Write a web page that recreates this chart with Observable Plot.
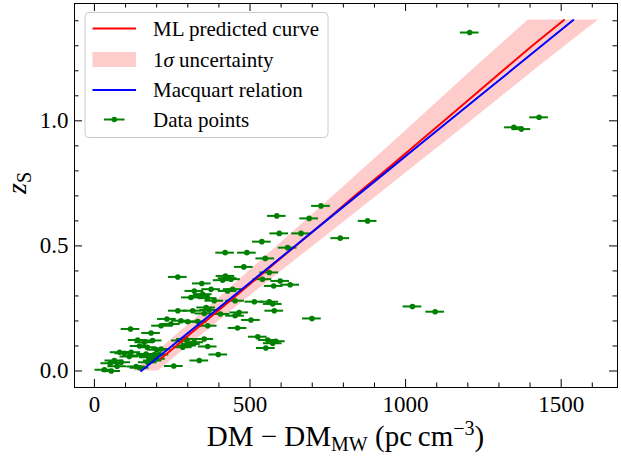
<!DOCTYPE html>
<html><head><meta charset="utf-8">
<script src="https://cdn.jsdelivr.net/npm/d3@7"></script>
<script src="https://cdn.jsdelivr.net/npm/@observablehq/plot@0.6"></script>
<style>body{margin:0;background:#fff} svg{display:block} svg text{font-family:"Liberation Serif","Times New Roman",serif}</style>
</head><body><div id="chart"></div>
<script>
// ---- data ----
const dmValues = [
  1206,1429,1348,1372,878,790,1022,1095,699,728,586,690,
  594,664,538,621,420,490,549,480,562,268,421,428,412,439,345,540,597,576,629,375,321,428,444,310,348,364,385,452,514,562,573,578,268,316,359,369,353,405,465,452,503,342,
  233,214,246,278,300,332,364,460,116,182,139,160,187,278,294,310,321,298,284,353,364,398,525,557,583,573,551,337,255,81,96,118,112,150,166,177,193,187,171,198,209,214,64,51,86,32,54,145,134,73,200,170,145
];
const zValues = [
  1.353,1.014,0.974,0.967,0.600,0.531,0.258,0.237,0.210,0.66,0.62,0.61,
  0.55,0.55,0.517,0.493,0.473,0.473,0.45,0.416,0.394,0.376,0.38,0.371,0.363,0.367,0.35,0.367,0.36,0.34,0.345,0.327,0.32,0.32,0.327,0.294,0.307,0.291,0.281,0.281,0.277,0.277,0.268,0.241,0.241,0.241,0.254,0.244,0.23,0.228,0.234,0.221,0.204,0.30,
  0.208,0.181,0.188,0.201,0.197,0.198,0.181,0.172,0.168,0.152,0.124,0.115,0.122,0.122,0.128,0.108,0.115,0.102,0.095,0.128,0.098,0.066,0.137,0.124,0.119,0.111,0.092,0.042,0.02,0.075,0.071,0.075,0.058,0.062,0.068,0.055,0.066,0.042,0.035,0.049,0.066,0.088,0.042,0.031,0.035,0.005,0.0,0.013,0.018,0.019,0.085,0.095,0.1
];
const dmErr = 30;

const macZ  = [0, 0.1, 0.2, 0.3, 0.4, 0.5, 0.6, 0.7, 0.8, 0.9, 1.0, 1.1, 1.2, 1.3, 1.403];
const macDM = [150, 249, 348, 447, 546, 645, 744, 843, 942, 1041, 1140, 1239, 1338, 1437, 1539];

const mlZ  = [0.05, 0.1, 0.15, 0.2, 0.3, 0.4, 0.5, 0.6, 0.7, 0.8, 0.9, 1.0, 1.1, 1.2, 1.3, 1.403];
const mlDM = [214, 262, 309, 358, 454, 550, 646, 742, 837, 934, 1029, 1124, 1218, 1312, 1407, 1509];

const bandZ  = [0, 0.1, 0.2, 0.3, 0.4, 0.5, 0.6, 0.7, 0.8, 0.9, 1.0, 1.1, 1.2, 1.3, 1.403];
const bandLo = [125, 222, 316, 408, 498, 588, 678, 768, 858, 948, 1036, 1124, 1212, 1302, 1395];
const bandHi = [205, 302, 400, 500, 602, 704, 806, 908, 1010, 1112, 1212, 1312, 1412, 1514, 1620];

const xMajorTicks = [0, 500, 1000, 1500];
const xMinorTicks = [100,200,300,400,600,700,800,900,1100,1200,1300,1400,1600];
const yMajorTicks = [0, 0.5, 1.0];
const yMinorTicks = [0.1,0.2,0.3,0.4,0.6,0.7,0.8,0.9,1.1,1.2,1.3,1.4];

const legendLabels = ["ML predicted curve", "1σ uncertainty", "Macquart relation", "Data points"];

// ---- build tables ----
const points = dmValues.map((dm, i) => ({dm, z: zValues[i]}));
const macData = macDM.map((dm, i) => ({dm, z: macZ[i]}));
const mlData = mlDM.map((dm, i) => ({dm, z: mlZ[i]}));
const bandData = bandZ.map((z, i) => ({z, lo: bandLo[i], hi: bandHi[i]}));

const W = 621, H = 457, mL = 74, mR = 4, mT = 3, mB = 70;
const innerW = W - mL - mR, innerH = H - mT - mB;
const majLen = 8, minLen = 4.5;
const FONT = '"Liberation Serif", "Times New Roman", serif';

const plot = Plot.plot({
  width: W, height: H,
  marginLeft: mL, marginRight: mR, marginTop: mT, marginBottom: mB,
  x: {domain: [-64, 1681]},
  y: {domain: [-0.066, 1.469]},
  style: {fontFamily: FONT, fontSize: "23px", color: "black", background: "white", overflow: "visible"},
  marks: [
    Plot.areaX(bandData, {y: "z", x1: "lo", x2: "hi", fill: "#ffcccc"}),
    Plot.ruleY(points, {y: "z", x1: d => d.dm - dmErr, x2: d => d.dm + dmErr, stroke: "green", strokeWidth: 2}),
    Plot.dot(points, {x: "dm", y: "z", r: 2.8, fill: "green"}),
    Plot.line(mlData, {x: "dm", y: "z", stroke: "red", strokeWidth: 2}),
    Plot.line(macData, {x: "dm", y: "z", stroke: "blue", strokeWidth: 2}),
    Plot.frame({stroke: "black", strokeWidth: 1}),
    // inward ticks, all four sides
    Plot.tickX(xMajorTicks, {x: d => d, insetTop: innerH - majLen, stroke: "black"}),
    Plot.tickX(xMajorTicks, {x: d => d, insetBottom: innerH - majLen, stroke: "black"}),
    Plot.tickX(xMinorTicks, {x: d => d, insetTop: innerH - minLen, stroke: "black"}),
    Plot.tickX(xMinorTicks, {x: d => d, insetBottom: innerH - minLen, stroke: "black"}),
    Plot.tickY(yMajorTicks, {y: d => d, insetRight: innerW - majLen, stroke: "black"}),
    Plot.tickY(yMajorTicks, {y: d => d, insetLeft: innerW - majLen, stroke: "black"}),
    Plot.tickY(yMinorTicks, {y: d => d, insetRight: innerW - minLen, stroke: "black"}),
    Plot.tickY(yMinorTicks, {y: d => d, insetLeft: innerW - minLen, stroke: "black"}),
    Plot.axisX({ticks: xMajorTicks, tickSize: 0, tickPadding: 8, label: null, tickFormat: d3.format("d")}),
    Plot.axisY({ticks: yMajorTicks, tickSize: 0, tickPadding: 6, label: null, tickFormat: d3.format(".1f")})
  ]
});

document.getElementById("chart").appendChild(plot);

// ---- axis titles and legend (real text) ----
const svg = d3.select(plot);
const extra = svg.append("g").attr("fill", "black");

// x label
const xl = extra.append("text").attr("x", mL + innerW / 2).attr("y", 446)
  .attr("text-anchor", "middle").attr("font-size", 29);
xl.append("tspan").text("DM\u2005\u2212\u2005DM");
xl.append("tspan").attr("font-size", 20).attr("dy", 5).text("MW");
xl.append("tspan").attr("dy", -5).text(" (pc\u2009cm");
xl.append("tspan").attr("font-size", 20).attr("dy", -11).text("\u22123");
xl.append("tspan").attr("dy", 11).text(")");

// y label
const yl = extra.append("text").attr("transform", `translate(26,183) rotate(-90)`)
  .attr("text-anchor", "middle").attr("font-size", 28);
yl.append("tspan").attr("font-style", "italic").text("z");
yl.append("tspan").attr("font-size", 20).attr("dy", 5).text("S");

// legend
const lg = extra.append("g");
lg.append("rect").attr("x", 85).attr("y", 12.5).attr("width", 243).attr("height", 125)
  .attr("rx", 4).attr("fill", "white").attr("fill-opacity", 0.8)
  .attr("stroke", "#cccccc").attr("stroke-width", 1);
const rowY = [28.5, 59.5, 90, 119.5];
const hx0 = 92.5, hx1 = 136;
lg.append("line").attr("x1", hx0).attr("x2", hx1).attr("y1", rowY[0]).attr("y2", rowY[0]).attr("stroke", "red").attr("stroke-width", 2);
lg.append("rect").attr("x", hx0).attr("y", rowY[1] - 7.5).attr("width", hx1 - hx0).attr("height", 15).attr("fill", "#ffcccc");
lg.append("line").attr("x1", hx0).attr("x2", hx1).attr("y1", rowY[2]).attr("y2", rowY[2]).attr("stroke", "blue").attr("stroke-width", 2);
lg.append("line").attr("x1", 104).attr("x2", 124.5).attr("y1", rowY[3]).attr("y2", rowY[3]).attr("stroke", "green").attr("stroke-width", 2);
lg.append("circle").attr("cx", 114.3).attr("cy", rowY[3]).attr("r", 2.8).attr("fill", "green");
legendLabels.forEach((lab, i) => {
  const t = lg.append("text").attr("x", 153).attr("y", rowY[i]).attr("dy", "0.35em")
    .attr("font-size", 21).attr("text-anchor", "start");
  if (lab.includes("σ")) {
    const [a, b] = lab.split("σ");
    t.append("tspan").text(a);
    t.append("tspan").attr("font-style", "italic").text("σ");
    t.append("tspan").text(b);
  } else {
    t.text(lab);
  }
});
</script>
</body></html>
